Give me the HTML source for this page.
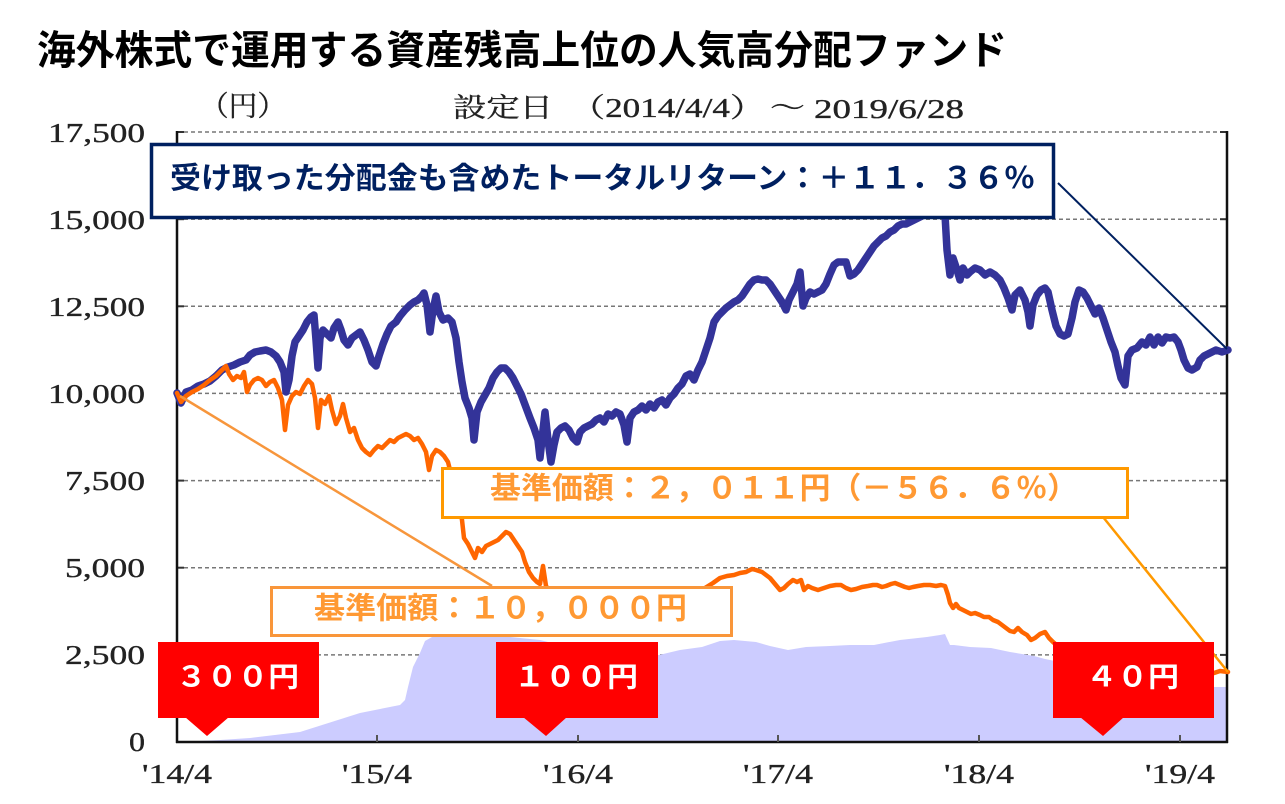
<!DOCTYPE html>
<html>
<head>
<meta charset="utf-8">
<style>
html,body{margin:0;padding:0;background:#fff;}
svg{display:block;}
.cj{font-family:"Liberation Sans","Noto Sans CJK JP",sans-serif;font-weight:bold;}
.sf{font-family:"Liberation Serif","Noto Serif CJK SC",serif;fill:#222;stroke:#222;stroke-width:0.35;}
</style>
</head>
<body>
<svg width="1285" height="804" viewBox="0 0 1285 804" xmlns="http://www.w3.org/2000/svg">
<rect width="1285" height="804" fill="#fff"/>

<!-- title -->
<text class="cj" x="37" y="51" font-size="40" fill="#000" dominant-baseline="central" textLength="970" lengthAdjust="spacingAndGlyphs">海外株式で運用する資産残高上位の人気高分配ファンド</text>

<!-- subtitle -->
<text class="sf" x="200" y="107" font-size="28" fill="#333" dominant-baseline="central" textLength="86" lengthAdjust="spacingAndGlyphs">（円）</text>
<text class="sf" x="453" y="108" font-size="27" fill="#333" dominant-baseline="central" textLength="100" lengthAdjust="spacingAndGlyphs">設定日</text>
<text class="sf" x="570" y="108" font-size="27" fill="#333" dominant-baseline="central" textLength="195" lengthAdjust="spacingAndGlyphs">（2014/4/4）</text>
<text class="sf" x="770" y="108" font-size="27" fill="#333" dominant-baseline="central" textLength="35" lengthAdjust="spacingAndGlyphs">～</text>
<text class="sf" x="814" y="118" font-size="27" fill="#333" textLength="150" lengthAdjust="spacingAndGlyphs">2019/6/28</text>

<!-- gridlines -->
<g stroke="#777" stroke-width="1.5" stroke-dasharray="4 3">
<line x1="177" y1="132" x2="1227" y2="132"/>
<line x1="177" y1="219.2" x2="1227" y2="219.2"/>
<line x1="177" y1="306.3" x2="1227" y2="306.3"/>
<line x1="177" y1="393.4" x2="1227" y2="393.4"/>
<line x1="177" y1="480.6" x2="1227" y2="480.6"/>
<line x1="177" y1="567.7" x2="1227" y2="567.7"/>
<line x1="177" y1="654.9" x2="1227" y2="654.9"/>
</g>
<g stroke="#333" stroke-width="2">
<line x1="177" y1="132" x2="184" y2="132"/><line x1="1220" y1="132" x2="1227" y2="132"/>
<line x1="177" y1="219.2" x2="184" y2="219.2"/><line x1="1220" y1="219.2" x2="1227" y2="219.2"/>
<line x1="177" y1="306.3" x2="184" y2="306.3"/><line x1="1220" y1="306.3" x2="1227" y2="306.3"/>
<line x1="177" y1="393.4" x2="184" y2="393.4"/><line x1="1220" y1="393.4" x2="1227" y2="393.4"/>
<line x1="177" y1="480.6" x2="184" y2="480.6"/><line x1="1220" y1="480.6" x2="1227" y2="480.6"/>
<line x1="177" y1="567.7" x2="184" y2="567.7"/><line x1="1220" y1="567.7" x2="1227" y2="567.7"/>
<line x1="177" y1="654.9" x2="184" y2="654.9"/><line x1="1220" y1="654.9" x2="1227" y2="654.9"/>
</g>

<!-- area (distribution/asset) -->
<polygon fill="#CCCCFF" points="177,742 200,741 220,740 250,738 300,732 360,713 400,705 405,700 408,687 413,667 420,653 425,641 432,637 440,636 460,636 480,637 500,636 520,638 540,640 560,645 580,650 600,652 620,654 640,655 659,655 680,650 702,647 720,641 734,640 756,642 770,646 788,650 806,647 830,646 850,645 874,645 900,640 927,637 940,635 945,634 950,645 954,645 970,647 991,648 1010,652 1034,656 1045,659 1060,662 1080,664 1100,668 1120,674 1140,678 1160,682 1180,684 1200,686 1213,687 1228,687 1228,742"/>

<!-- axes -->
<g stroke="#111" stroke-width="2.5" fill="none">
<line x1="177" y1="131" x2="177" y2="743"/>
<line x1="1227" y1="131" x2="1227" y2="743"/>
<line x1="176" y1="742" x2="1228" y2="742"/>
</g>
<g stroke="#555" stroke-width="2">
<line x1="377" y1="735" x2="377" y2="742"/>
<line x1="578" y1="735" x2="578" y2="742"/>
<line x1="778" y1="735" x2="778" y2="742"/>
<line x1="979" y1="735" x2="979" y2="742"/>
<line x1="1180" y1="735" x2="1180" y2="742"/>
</g>

<!-- y labels -->
<g class="sf" font-size="27">
<text x="48" y="142" textLength="97" lengthAdjust="spacingAndGlyphs">17,500</text>
<text x="48" y="229" textLength="97" lengthAdjust="spacingAndGlyphs">15,000</text>
<text x="48" y="316" textLength="97" lengthAdjust="spacingAndGlyphs">12,500</text>
<text x="48" y="403" textLength="97" lengthAdjust="spacingAndGlyphs">10,000</text>
<text x="65" y="490" textLength="80" lengthAdjust="spacingAndGlyphs">7,500</text>
<text x="65" y="577" textLength="80" lengthAdjust="spacingAndGlyphs">5,000</text>
<text x="65" y="664" textLength="80" lengthAdjust="spacingAndGlyphs">2,500</text>
<text x="129" y="751" textLength="16" lengthAdjust="spacingAndGlyphs">0</text>
</g>
<!-- x labels -->
<g class="sf" font-size="27">
<text x="142" y="783" textLength="70" lengthAdjust="spacingAndGlyphs">'14/4</text>
<text x="342" y="783" textLength="70" lengthAdjust="spacingAndGlyphs">'15/4</text>
<text x="543" y="783" textLength="70" lengthAdjust="spacingAndGlyphs">'16/4</text>
<text x="743" y="783" textLength="70" lengthAdjust="spacingAndGlyphs">'17/4</text>
<text x="944" y="783" textLength="70" lengthAdjust="spacingAndGlyphs">'18/4</text>
<text x="1145" y="783" textLength="70" lengthAdjust="spacingAndGlyphs">'19/4</text>
</g>

<!-- blue total return line -->
<polyline fill="none" stroke="#333399" stroke-width="7.5" stroke-linejoin="round" stroke-linecap="round" points="177,393 181,403 186,392 192,390 198,386 204,384 210,381 216,376 222,370 228,367 234,365 240,362 246,360 250,355 255,352 260,351 266,350 271,352 276,356 280,362 284,372 286,392 289,380 292,356 295,342 299,336 303,330 307,322 311,317 314,315 316,340 318,368 320,338 323,330 327,334 331,338 334,328 338,322 341,330 344,340 348,345 352,338 356,335 360,332 364,340 368,350 372,362 376,366 379,356 383,344 387,334 391,326 396,322 400,316 405,310 410,305 414,302 418,300 422,296 424,293 427,305 430,332 433,310 436,296 439,312 443,320 448,318 452,322 456,338 459,362 462,382 465,398 469,408 472,418 474,440 477,412 481,402 485,395 489,388 493,378 497,372 501,368 505,368 509,372 513,378 517,386 521,394 524,402 527,410 530,418 534,428 538,440 540,458 543,430 545,412 548,440 551,462 554,445 557,432 561,428 565,426 569,430 573,438 577,442 580,432 584,428 588,426 592,424 596,420 600,418 604,422 608,414 612,416 616,412 620,414 624,425 627,442 630,418 634,412 638,410 642,406 646,410 650,404 654,408 658,402 662,400 666,405 670,398 674,394 678,388 682,384 686,376 690,374 694,380 698,370 702,362 706,350 710,338 714,322 718,316 722,312 726,308 730,305 734,302 738,300 742,296 746,290 750,284 754,280 758,279 762,280 766,280 770,284 774,290 778,296 782,302 786,310 789,300 793,292 797,284 800,272 803,306 806,298 810,292 814,294 818,292 822,290 826,284 830,274 834,265 838,262 842,262 846,262 850,276 854,274 858,270 862,264 866,258 870,252 874,246 878,242 882,238 886,236 890,232 894,230 898,226 902,224 906,224 910,222 914,220 918,218 922,216 926,214 930,212 934,210 938,208 942,208 945,215 947,250 950,275 953,258 957,270 960,280 963,268 967,275 970,272 975,268 980,270 985,275 990,272 995,275 1000,280 1004,288 1008,298 1012,310 1015,295 1020,290 1025,300 1028,312 1030,326 1033,305 1037,295 1041,290 1045,288 1048,292 1052,310 1056,326 1060,334 1064,336 1068,334 1072,318 1075,302 1079,290 1083,292 1087,298 1091,306 1095,314 1099,308 1103,318 1107,330 1111,342 1115,352 1118,366 1121,378 1125,385 1128,356 1132,350 1137,348 1142,342 1146,345 1150,337 1154,345 1158,337 1162,343 1166,337 1170,338 1174,337 1178,342 1181,350 1184,360 1188,368 1192,370 1197,367 1200,360 1204,356 1208,354 1212,352 1216,350 1222,352 1228,350"/>

<!-- orange NAV line -->
<polyline fill="none" stroke="#FF6600" stroke-width="4.5" stroke-linejoin="round" stroke-linecap="round" points="177,393 181,402 186,396 192,392 198,389 204,385 210,380 216,376 222,370 226,366 229,374 233,380 237,376 241,378 244,372 247,392 250,385 254,380 258,378 262,380 266,386 270,382 274,380 278,388 282,400 285,430 288,405 292,396 296,392 300,394 304,386 308,380 312,384 315,398 318,428 321,400 325,404 329,396 332,410 336,424 340,416 343,404 346,418 350,432 354,428 358,440 362,448 366,452 370,455 374,450 378,446 382,448 386,444 390,440 394,442 398,438 402,436 406,434 410,436 414,440 418,438 422,444 426,452 429,470 432,456 436,450 440,452 444,456 448,462 452,478 456,492 459,505 462,520 464,538 468,544 472,552 475,558 478,548 482,552 486,546 490,544 494,542 498,540 502,536 506,532 510,534 514,540 518,546 522,552 525,562 529,572 533,578 537,582 540,584 543,566 546,586 550,592 560,595 575,600 600,605 625,605 650,603 675,600 695,592 705,588 713,583 720,578 727,576 734,575 740,573 746,572 752,569 756,570 762,572 766,575 770,578 775,584 780,590 784,588 788,584 793,580 797,582 801,580 804,590 808,586 812,588 818,590 824,588 830,586 836,585 841,585 846,588 851,590 856,589 862,587 868,586 873,585 877,585 882,587 886,586 891,584 895,583 900,585 905,587 909,588 913,587 918,586 924,585 930,585 936,586 941,585 945,586 948,595 950,603 953,608 956,604 959,608 963,610 967,612 971,614 975,613 980,615 984,617 989,617 993,620 998,622 1002,625 1006,628 1010,631 1014,632 1018,628 1022,632 1027,635 1031,640 1035,638 1040,634 1045,632 1049,638 1053,642 1060,648 1070,645 1080,650 1090,655 1100,660 1110,662 1120,665 1130,668 1150,670 1170,672 1190,670 1205,672 1214,673 1220,671 1228,672"/>

<!-- leader lines -->
<line x1="1058" y1="183" x2="1227" y2="349" stroke="#002060" stroke-width="2"/>
<line x1="1103" y1="517" x2="1228" y2="672" stroke="#FF9900" stroke-width="2.5"/>
<line x1="180" y1="396" x2="492" y2="586" stroke="#F7963C" stroke-width="2.5"/>

<!-- navy total return box -->
<rect x="151.5" y="144.5" width="902" height="73" fill="#fff" stroke="#002060" stroke-width="3.5"/>
<text class="cj" x="170" y="179" font-size="30" fill="#002060" dominant-baseline="central" textLength="865" lengthAdjust="spacingAndGlyphs">受け取った分配金も含めたトータルリターン：＋１１．３６％</text>

<!-- orange box 1 -->
<rect x="442.5" y="468.5" width="685" height="49" fill="#fff" stroke="#FF9900" stroke-width="3"/>
<text class="cj" x="490" y="489" font-size="30" fill="#FF9933" dominant-baseline="central" textLength="588" lengthAdjust="spacingAndGlyphs">基準価額：２，０１１円（－５６．６％）</text>

<!-- orange box 2 -->
<rect x="271.5" y="587.5" width="460" height="48" fill="#fff" stroke="#F9963A" stroke-width="3"/>
<text class="cj" x="314" y="609" font-size="30" fill="#FF9933" dominant-baseline="central" textLength="373" lengthAdjust="spacingAndGlyphs">基準価額：１０，０００円</text>

<!-- red callouts -->
<g fill="#FF0000">
<rect x="158" y="642" width="161" height="76"/>
<polygon points="185,717 229,717 207,736"/>
<rect x="496" y="642" width="162" height="76"/>
<polygon points="523,717 567,717 546,736"/>
<rect x="1053" y="642" width="161" height="76"/>
<polygon points="1080,717 1124,717 1103,736"/>
</g>
<g class="cj" font-size="28" fill="#fff">
<text x="176" y="677" dominant-baseline="central" textLength="123" lengthAdjust="spacingAndGlyphs">３００円</text>
<text x="514" y="677" dominant-baseline="central" textLength="124" lengthAdjust="spacingAndGlyphs">１００円</text>
<text x="1086" y="677" dominant-baseline="central" textLength="93" lengthAdjust="spacingAndGlyphs">４０円</text>
</g>
</svg>
</body>
</html>
